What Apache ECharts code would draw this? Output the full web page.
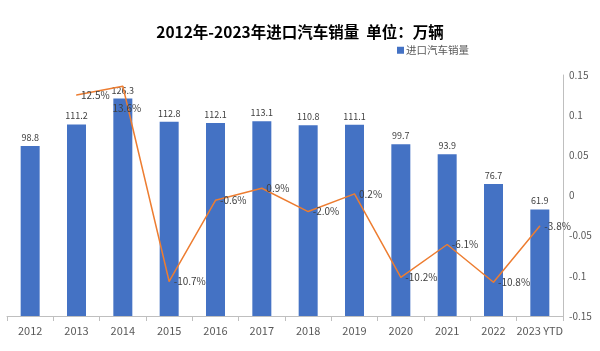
<!DOCTYPE html>
<html>
<head>
<meta charset="UTF-8">
<title>进口汽车销量</title>
<style>
  html, body { margin: 0; padding: 0; background: #fff; }
  #chart { width: 600px; height: 351px; }
</style>
</head>
<body>
<div id="chart"></div>
<script src="https://cdn.jsdelivr.net/npm/echarts@6/dist/echarts.min.js"></script>
<script>
  // 年份
  var years = ['2012', '2013', '2014', '2015', '2016', '2017', '2018', '2019', '2020', '2021', '2022', '2023 YTD'];
  // 进口汽车销量（万辆）
  var sales = [98.8, 111.2, 126.3, 112.8, 112.1, 113.1, 110.8, 111.1, 99.7, 93.9, 76.7, 61.9];
  // 同比增速，2012 无数据
  var growth = [null, 0.125, 0.136, -0.107, -0.006, 0.009, -0.020, 0.002, -0.102, -0.061, -0.108, -0.038];

  var font = 'Microsoft YaHei, "Noto Sans CJK SC", sans-serif';

  // 2014 的标签在点下方
  var growthData = growth.map(function (v, i) {
    if (i === 2) return { value: v, label: { position: 'bottom', offset: [4, 12] } };
    return v;
  });

  var myChart = echarts.init(document.getElementById('chart'));
  myChart.setOption({
    animation: false,
    title: {
      text: '2012年-2023年进口汽车销量  单位：万辆',
      left: 'center',
      top: 19,
      textStyle: { fontSize: 15.5, fontWeight: 'bold', color: '#000', fontFamily: font }
    },
    legend: {
      data: ['进口汽车销量'],
      left: 392,
      top: 40,
      icon: 'rect',
      itemWidth: 7,
      itemHeight: 7,
      itemGap: 2,
      textStyle: { fontSize: 10.5, color: '#595959', fontFamily: font, padding: [0, 0, 0, -3] }
    },
    grid: { left: 7, right: 37, top: 75, bottom: 35 },
    xAxis: {
      type: 'category',
      data: years,
      axisLine: { lineStyle: { color: '#BFBFBF' } },
      axisTick: { show: true, length: 5, lineStyle: { color: '#BFBFBF' } },
      axisLabel: { color: '#595959', fontSize: 11, margin: 9, fontFamily: font, interval: 0 }
    },
    yAxis: [{
      type: 'value',
      min: 0,
      max: 140,
      show: false
    }, {
      type: 'value',
      position: 'right',
      min: -0.15,
      max: 0.15,
      interval: 0.05,
      axisLine: { show: true, lineStyle: { color: '#BFBFBF' } },
      axisTick: { show: false },
      splitLine: { show: false },
      axisLabel: {
        color: '#595959',
        fontSize: 10,
        margin: 6,
        fontFamily: font,
        formatter: function (v) { return String(+v.toFixed(2)); }
      }
    }],
    series: [{
      name: '进口汽车销量',
      type: 'bar',
      data: sales,
      barWidth: '41%',
      itemStyle: { color: '#4472C4' },
      label: {
        show: true,
        position: 'top',
        distance: 4,
        fontSize: 9,
        color: '#404040',
        fontFamily: font
      }
    }, {
      name: '增速',
      type: 'line',
      yAxisIndex: 1,
      data: growthData,
      symbol: 'circle',
      symbolSize: 1,
      showSymbol: true,
      connectNulls: false,
      lineStyle: { color: '#ED7D31', width: 1.5 },
      itemStyle: { color: '#ED7D31' },
      label: {
        show: true,
        position: 'right',
        distance: 4,
        fontSize: 10,
        color: '#404040',
        fontFamily: font,
        formatter: function (p) {
          var v = p.value;
          if (v == null) return '';
          return (v * 100).toFixed(1) + '%';
        }
      }
    }]
  });
</script>
</body>
</html>
